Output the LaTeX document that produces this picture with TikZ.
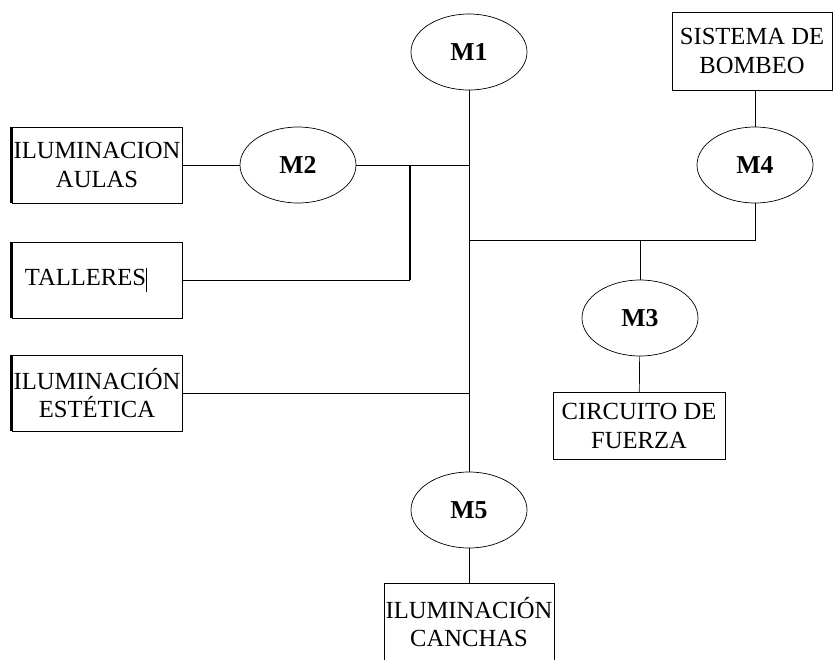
\documentclass[tikz,border=0pt]{standalone}
\usepackage{fontspec}
\setmainfont{Liberation Serif}
\usetikzlibrary{shapes.geometric}
\tikzset{%
  m/.style = {ellipse,draw,line width=0.6pt,minimum width=3.48cm,
        minimum height=2.28cm,inner sep=0pt,
        font=\fontsize{22}{24}\selectfont\bfseries},
  b/.style = {rectangle,draw,line width=0.6pt,minimum width=5.1cm,
        minimum height=2.28cm,inner sep=0pt,align=center,
        font=\fontsize{21}{24}\selectfont},
  wire/.style = {line width=0.6pt},
  thickwire/.style = {line width=2pt}
}

\begin{document}
\begin{tikzpicture}[x=0.03cm,y=-0.03cm]
        \useasboundingbox (0,0) rectangle (834,659);
        \clip (0,0) rectangle (834,659);

        \node[m] (m1) at (469,52) {M1};
        \node[m] (m2) at (298,165) {M2};
        \node[m] (m4) at (755,165) {M4};
        \node[m] (m3) at (640,318) {M3};
        \node[m] (m5) at (469,510) {M5};

        \node[b,minimum width=4.8cm,minimum height=2.34cm] (bombeo) at (752,51) {SISTEMA DE\\BOMBEO};
        \node[b] (aulas) at (97,165) {ILUMINACION\\AULAS};
        \node[b,text width=4.32cm,align=left] (talleres) at (97,280)
                {TALLERES\rule[-0.28em]{1pt}{1em}};
        \node[b] (estetica) at (97,393) {ILUMINACIÓN\\ESTÉTICA};
        \node[b,minimum width=5.16cm,minimum height=2.01cm] (fuerza) at (639,426) {CIRCUITO DE\\FUERZA};
        \node[b,minimum height=2.34cm] (canchas) at (469,622) {ILUMINACIÓN\\CANCHAS};

        % thick left edges
        \foreach \n in {aulas,talleres,estetica}
                \draw[thickwire] (\n.north west) -- (\n.south west);

        \coordinate (j2) at (469,165);
        \coordinate (j4) at (469,240);
        \coordinate (je) at (469,393);
        \coordinate (t) at (410,165);

        \draw[wire] (m1) -- (m5);
        \draw[wire] (aulas) -- (m2);
        \draw[wire] (m2) -- (j2);
        \draw[thickwire] (t) -- (t |- talleres.east);
        \draw[wire] (talleres) -- (t |- talleres.east);
        \draw[wire] (estetica) -- (je);
        \draw[wire] (m4.north |- bombeo.south) -- (m4);
        \draw[wire] (m4) |- (j4);
        \draw[wire] (m3) -- (m3.north |- j4);
        \draw[wire] (m3) -- (fuerza);
        \draw[wire] (m5) -- (canchas);

    \end{tikzpicture}
\end{document}
